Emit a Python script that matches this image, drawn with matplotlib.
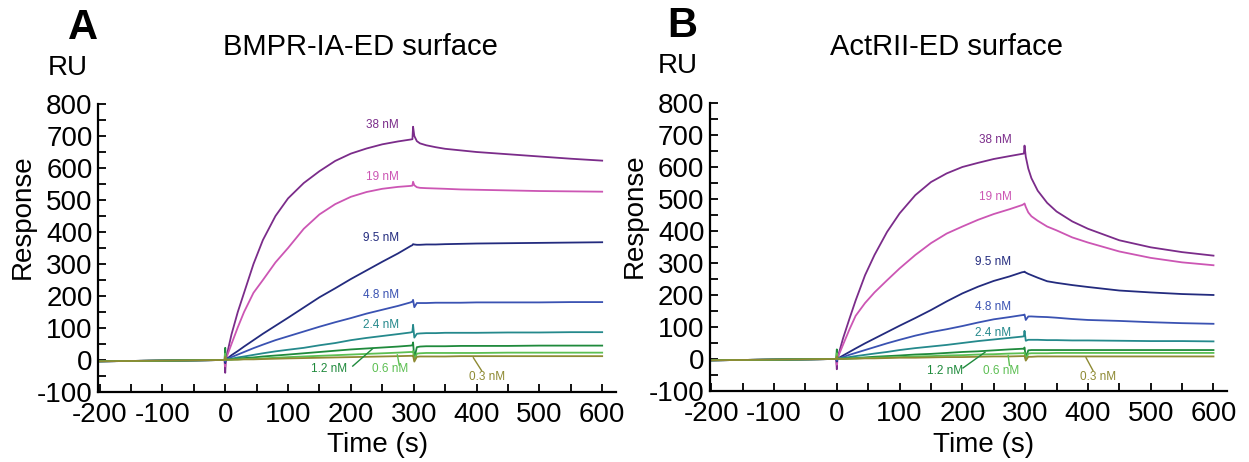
import matplotlib
matplotlib.use("Agg")
import matplotlib.pyplot as plt
from matplotlib.ticker import MultipleLocator

plt.rcParams['font.family'] = ['Liberation Sans', 'DejaVu Sans']
plt.rcParams['axes.unicode_minus'] = False

# ---- data (time in s, response in RU) ----
T = [-200, -150, -100, -50, -1, 0, 1, 10, 20, 30, 45, 60, 80, 100, 125, 150, 175,
     200, 225, 250, 275, 295, 298, 299, 301, 305, 310, 320, 335, 350, 375, 400,
     450, 500, 550, 600]

conc_labels = ["38 nM", "19 nM", "9.5 nM", "4.8 nM", "2.4 nM", "1.2 nM", "0.6 nM", "0.3 nM"]
colors = ["#7b2c8a", "#cc56b4", "#232b7e", "#3a52b2", "#25898c", "#1f8a3c", "#5cbf52", "#8e8a33"]

# panel A, BMPR-IA-ED surface
A_38 = [-4, -3, -2, -1, 0, -40, 2, 80, 150, 210, 300, 375, 450, 505, 553, 590, 622,
        645, 661, 674, 683, 689, 690, 729, 700, 684, 677, 671, 665, 660, 655, 650,
        643, 636, 629, 623]
A_19 = [-4, -3, -2, -1, 0, -20, 2, 50, 102, 150, 210, 250, 305, 350, 410, 455, 487,
        510, 525, 535, 541, 544, 545, 557, 546, 540, 538, 537, 536, 535, 533, 532,
        530, 528, 527, 526]
A_9_5 = [-4, -3, -2, -1, 0, -10, 1, 15, 28, 42, 62, 82, 107, 132, 164, 196, 224,
         253, 280, 307, 333, 356, 359, 362, 361, 360, 360, 361, 361, 362, 363, 364,
         365, 366, 367, 368]
A_4_8 = [-4, -3, -2, -1, 0, -5, 1, 9, 17, 25, 37, 48, 62, 74, 89, 104, 118,
         131, 145, 157, 169, 180, 183, 188, 165, 178, 178, 178, 179, 179, 179, 180,
         180, 180, 181, 181]
A_2_4 = [-4, -3, -2, -1, 0, 5, 1, 4, 8, 11, 16, 21, 27, 32, 38, 46, 53,
         62, 69, 75, 81, 86, 88, 110, 70, 82, 83, 84, 84, 85, 85, 85,
         86, 86, 87, 87]
A_1_2 = [-4, -3, -2, -1, 0, 38, 1, 2, 4, 6, 8, 11, 14, 17, 21, 25, 29,
         33, 36, 39, 42, 45, 46, 55, 5, 40, 42, 43, 43, 43, 44, 44,
         44, 45, 45, 45]
A_0_6 = [-4, -3, -2, -1, 0, 20, 1, 1, 2, 3, 4, 5, 7, 9, 11, 13, 15,
         17, 19, 21, 23, 25, 25, 28, 0, 20, 21, 22, 22, 22, 22, 22,
         23, 23, 23, 23]
A_0_3 = [-4, -3, -2, -1, 0, 10, 1, 1, 1, 2, 2, 3, 4, 5, 6, 7, 8,
         9, 10, 11, 12, 13, 13, 14, -5, 10, 11, 11, 11, 11, 12, 12,
         12, 12, 12, 12]

# panel B, ActRII-ED surface
B_38 = [-4, -3, -2, -1, 0, -32, 2, 65, 125, 183, 262, 325, 397, 455, 512, 553, 580,
        600, 613, 625, 634, 641, 642, 667, 632, 595, 565, 526, 488, 461, 430, 407,
        371, 349, 334, 323]
B_19 = [-4, -3, -2, -1, 0, -18, 2, 45, 92, 135, 175, 208, 246, 283, 325, 362, 392,
        414, 435, 453, 468, 481, 484, 486, 475, 458, 446, 432, 414, 402, 380, 364,
        336, 316, 302, 293]
B_9_5 = [-4, -3, -2, -1, 0, -8, 1, 11, 22, 33, 49, 64, 84, 104, 128, 153, 180,
         205, 226, 244, 258, 271, 272, 273, 270, 266, 262, 254, 243, 238, 231, 225,
         214, 208, 203, 200]
B_4_8 = [-4, -3, -2, -1, 0, -5, 1, 6, 13, 19, 28, 37, 49, 60, 73, 84, 93,
         103, 114, 124, 131, 137, 138, 139, 122, 133, 133, 132, 131, 129, 125, 122,
         119, 115, 112, 110]
B_2_4 = [-4, -3, -2, -1, 0, 5, 1, 3, 6, 9, 13, 17, 22, 28, 34, 39, 44,
         50, 56, 61, 66, 70, 71, 88, 57, 60, 60, 60, 59, 59, 58, 58,
         57, 56, 56, 55]
B_1_2 = [-4, -3, -2, -1, 0, 30, 1, 1, 2, 3, 5, 7, 9, 11, 14, 16, 19,
         22, 24, 27, 30, 32, 32, 36, 5, 27, 28, 28, 28, 28, 28, 28,
         28, 28, 28, 28]
B_0_6 = [-4, -3, -2, -1, 0, 18, 1, 1, 1, 2, 3, 4, 5, 6, 8, 9, 11,
         12, 14, 15, 17, 18, 18, 20, 0, 17, 18, 18, 18, 19, 19, 19,
         19, 19, 19, 19]
B_0_3 = [-4, -3, -2, -1, 0, 8, 1, 0, 1, 1, 2, 2, 3, 4, 4, 5, 6,
         6, 7, 8, 8, 9, 9, 10, -5, 7, 7, 8, 8, 8, 8, 8,
         8, 8, 8, 8]

# label positions (time, response) for each concentration
A_lbl_t = [250, 250, 248, 248, 248, 166, 262, 416]
A_lbl_v = [734, 571, 382, 203, 109, -29, -29, -52]
B_lbl_t = [252, 252, 249, 249, 249, 172, 262, 416]
B_lbl_v = [685, 506, 302, 162, 82, -38, -38, -55]
# leader lines for the three lowest curves: (t0, v0, t1, v1)
A_leaders = [(203, -19, 235, 36), (277, -16, 274, 16), (408, -33, 395, 7)]
B_leaders = [(201, -28, 236, 21), (275, -20, 273, 11), (408, -36, 397, 4)]

W, H = 1249, 462
fig = plt.figure(figsize=(W / 100, H / 100), dpi=100)


def px(x, y):
    return x / W, 1 - y / H


def draw_panel(ax, series, lbl_t, lbl_v, leaders):
    for vals, c in zip(series, colors):
        ax.plot(T, vals, color=c, lw=1.3, zorder=2)
    for i, (lab, c) in enumerate(zip(conc_labels, colors)):
        ax.text(lbl_t[i], lbl_v[i], lab, color=c, fontsize=8.5, ha="center", va="center")
    for (t0, v0, t1, v1), c in zip(leaders, colors[5:]):
        ax.plot([t0, t1], [v0, v1], color=c, lw=1.0)

    ax.set_xlim(-202, 622)
    ax.set_ylim(-100, 800)
    ax.spines["top"].set_visible(False)
    ax.spines["right"].set_visible(False)
    for s in ("left", "bottom"):
        ax.spines[s].set_linewidth(1.6)
    ax.xaxis.set_major_locator(MultipleLocator(100))
    ax.xaxis.set_minor_locator(MultipleLocator(50))
    ax.yaxis.set_major_locator(MultipleLocator(100))
    ax.yaxis.set_minor_locator(MultipleLocator(50))
    ax.tick_params(which="both", direction="in", length=5.5, width=1.3)
    ax.tick_params(axis="both", which="major", labelsize=20)
    ax.tick_params(axis="x", pad=7)
    ax.tick_params(axis="y", pad=4)
    ax.set_ylabel("Response", fontsize=20)
    ax.yaxis.set_label_coords(-0.12, 0.61)


axA = fig.add_axes([98.3 / W, 1 - 392 / H, 517.7 / W, 288 / H])
draw_panel(axA, [A_38, A_19, A_9_5, A_4_8, A_2_4, A_1_2, A_0_6, A_0_3],
           A_lbl_t, A_lbl_v, A_leaders)
axB = fig.add_axes([710 / W, 1 - 391 / H, 517.3 / W, 288 / H])
draw_panel(axB, [B_38, B_19, B_9_5, B_4_8, B_2_4, B_1_2, B_0_6, B_0_3],
           B_lbl_t, B_lbl_v, B_leaders)

# panel letters, titles, units
fig.text(*px(83, 28), "A", fontsize=30, fontweight="bold", ha="center", va="center")
fig.text(*px(682, 26), "B", fontsize=30, fontweight="bold", ha="center", va="center")
fig.text(*px(360, 47), "BMPR-IA-ED surface", fontsize=21, ha="center", va="center")
fig.text(*px(947, 47), "ActRII-ED surface", fontsize=21, ha="center", va="center")
fig.text(*px(68, 68), "RU", fontsize=20, ha="center", va="center")
fig.text(*px(678, 66), "RU", fontsize=20, ha="center", va="center")
fig.text(*px(378, 445), "Time (s)", fontsize=20, ha="center", va="center")
fig.text(*px(984, 445), "Time (s)", fontsize=20, ha="center", va="center")

fig.savefig("out.png", dpi=100)
